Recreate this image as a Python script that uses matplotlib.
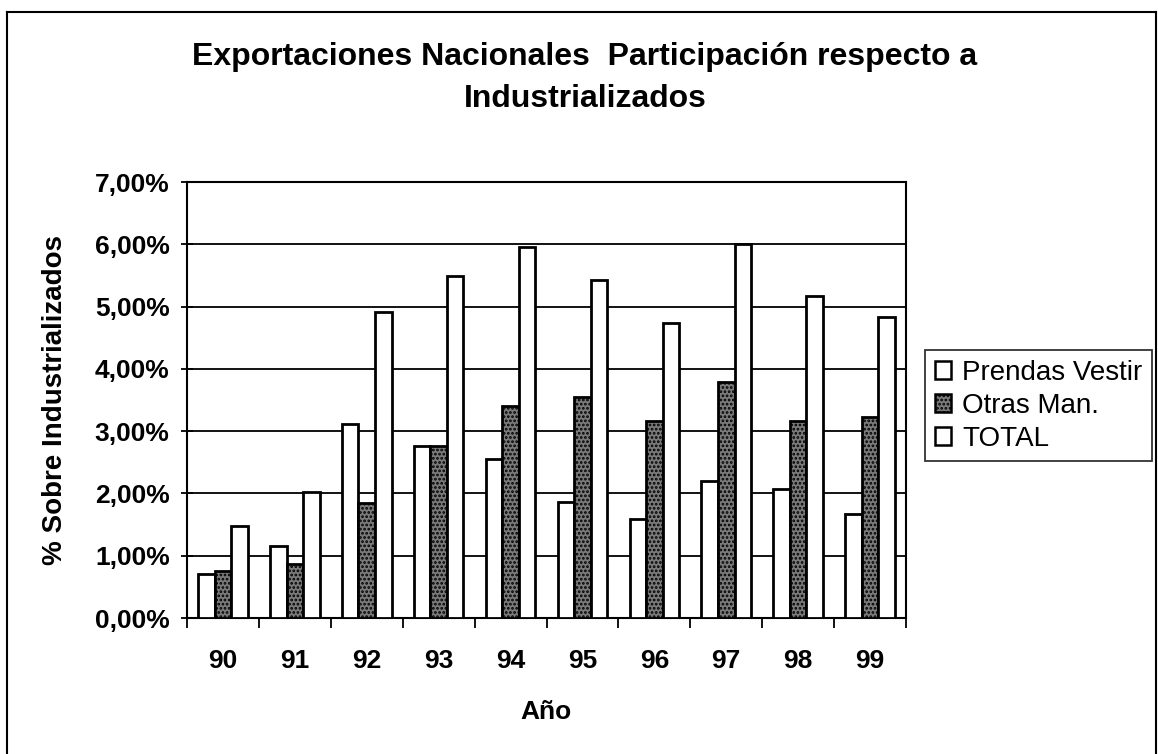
import matplotlib.pyplot as plt
import numpy as np
from matplotlib.lines import Line2D
from matplotlib.ticker import FuncFormatter

plt.rcParams['font.family'] = ['Liberation Sans', 'DejaVu Sans']
plt.rcParams['hatch.linewidth'] = 1.3

years = ['90', '91', '92', '93', '94', '95', '96', '97', '98', '99']
prendas = [0.70, 1.15, 3.12, 2.76, 2.56, 1.87, 1.59, 2.20, 2.07, 1.67]
otras = [0.75, 0.86, 1.84, 2.76, 3.41, 3.55, 3.16, 3.79, 3.16, 3.22]
total = [1.47, 2.02, 4.92, 5.49, 5.95, 5.42, 4.74, 6.00, 5.17, 4.84]
series_names = ['Prendas Vestir', 'Otras Man.', 'TOTAL']

W, H = 1158, 754
fig = plt.figure(figsize=(W / 100, H / 100), dpi=100)
ax = fig.add_axes([187 / W, 1 - 618 / H, 719 / W, 436 / H])

x = np.arange(len(years))
w = 0.23
lw = 2.0
ax.bar(x - w, prendas, w, facecolor='white', edgecolor='black', linewidth=lw,
       label=series_names[0], zorder=3)
ax.bar(x, otras, w, facecolor='#7a7a7a', edgecolor='black', linewidth=lw,
       hatch='....', label=series_names[1], zorder=3)
ax.bar(x + w, total, w, facecolor='white', edgecolor='black', linewidth=lw,
       label=series_names[2], zorder=3)

ax.set_ylim(0, 7)
ax.set_xlim(-0.5, len(years) - 0.5)
ax.set_yticks(np.arange(0, 8, 1))
ax.yaxis.set_major_formatter(FuncFormatter(lambda v, p: f'{v:.2f}%'.replace('.', ',')))
ax.set_xticks(np.arange(-0.5, len(years), 1))
ax.set_xticklabels([])
ax.set_xticks(x, minor=True)
ax.set_xticklabels(years, minor=True)
ax.tick_params(axis='x', which='minor', length=0, pad=22, labelsize=19)
ax.tick_params(axis='x', which='major', length=7, width=1.3, direction='out')
ax.tick_params(axis='y', length=9, width=1.3, direction='inout', labelsize=19, pad=8)
for lab in ax.get_xticklabels(minor=True) + ax.get_yticklabels():
    lab.set_fontweight('bold')
ax.grid(axis='y', color='black', linewidth=1.3, zorder=0)
for s in ax.spines.values():
    s.set_linewidth(1.5)

# axis titles, centred on the plot area
fig.text(55 / W, 1 - 400 / H, '% Sobre Industrializados', rotation=90,
         ha='center', va='center', fontsize=20, fontweight='bold')
fig.text(546 / W, 1 - 712 / H, 'Año', ha='center', va='center',
         fontsize=19, fontweight='bold')

# chart title, centred on the chart area
fig.text(585 / W, 1 - 65 / H, 'Exportaciones Nacionales  Participación respecto a',
         ha='center', va='baseline', fontsize=23, fontweight='bold')
fig.text(585 / W, 1 - 107 / H, 'Industrializados',
         ha='center', va='baseline', fontsize=23, fontweight='bold')

leg = fig.legend(loc='upper left', bbox_to_anchor=(925 / W, 1 - 350 / H),
                 frameon=True, fancybox=False, fontsize=20, handlelength=0.6,
                 handleheight=0.6, handletextpad=0.4, borderpad=0.35,
                 labelspacing=0.25, borderaxespad=0)
leg.get_frame().set_edgecolor('black')
leg.get_frame().set_linewidth(1.3)
for h in leg.legend_handles:
    h.set_linewidth(1.8)

# chart area border (cut off at the bottom in the scan)
for xs, ys in [((7, 7), (12, H)), ((7, 1156), (12, 12)), ((1156, 1156), (12, H))]:
    fig.add_artist(Line2D([v / W for v in xs], [1 - v / H for v in ys],
                          transform=fig.transFigure, color='black', linewidth=1.5))

fig.savefig('out.png', dpi=100)
